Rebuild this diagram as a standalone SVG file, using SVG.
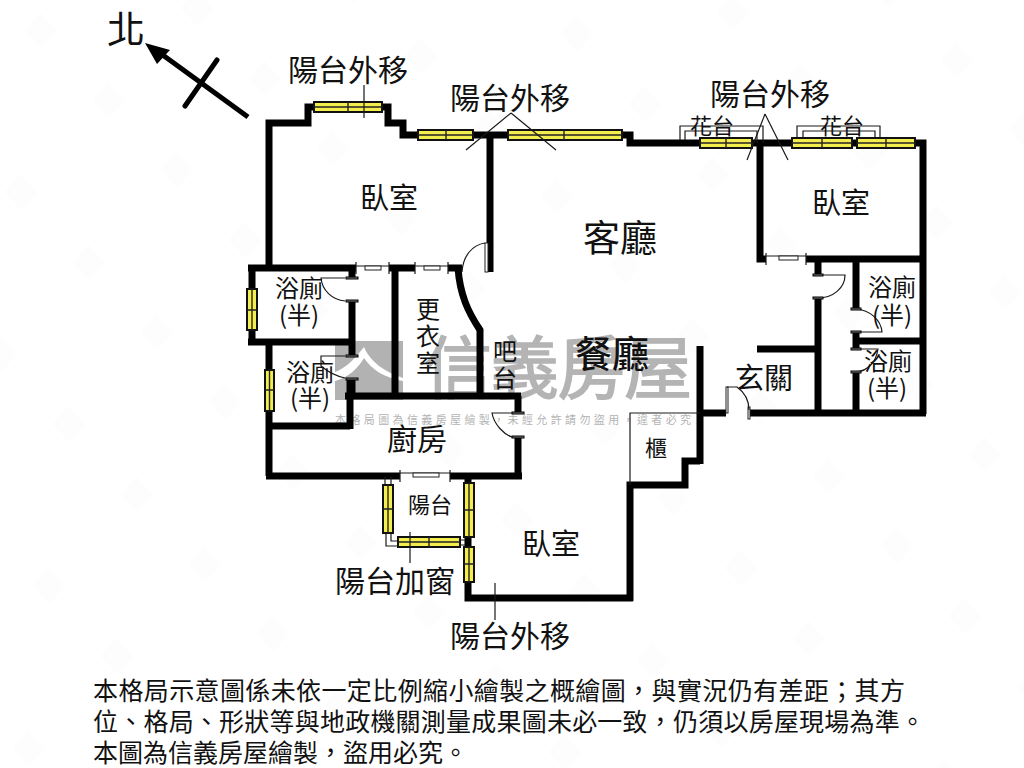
<svg xmlns="http://www.w3.org/2000/svg" width="1024" height="768" viewBox="0 0 1024 768">
<style>
.wall{fill:none;stroke:#000;stroke-width:7;stroke-linejoin:miter;stroke-linecap:butt}
.thin{fill:none;stroke:#1a1a1a;stroke-width:1.2}
.win{fill:#f3ee4e;stroke:#111;stroke-width:2}
.winl{fill:none;stroke:#222;stroke-width:1.400}
.cap{fill:#777;stroke:#000;stroke-width:1}
.leaf{fill:#fff;stroke:#222;stroke-width:1}
text{font-family:"Noto Sans CJK TC","Liberation Serif",sans-serif;fill:#111}
.t30{font-size:30px}.t29{font-size:29px}.t24{font-size:24px}.t22{font-size:22px}.t25{font-size:25px}
.wm{fill:#b4b4b4}
</style>
<defs>
<pattern id="faint" patternUnits="userSpaceOnUse" width="100" height="100" patternTransform="matrix(.68 .70 .88 -.92 4 192)">
<rect width="25" height="19" fill="#fdfdfd"/>
</pattern>
</defs>
<rect width="1024" height="768" fill="#fff"/>
<rect width="1024" height="768" fill="url(#faint)"/>
<g id="watermark">
<rect x="335" y="341" width="68" height="59" fill="#b2b2b2"/>
<path d="M364 347C352 362 345 368 335 372V381C348 378 358 368 364 358C372 370 385 378 403 381V378C385 372 370 362 364 347Z" fill="#fff"/>
<text x="424" y="393" class="wm" font-size="68" stroke="#b4b4b4" stroke-width="1.500" textLength="268" lengthAdjust="spacing">信義房屋</text>
<text x="335" y="424" class="wm" font-size="11" textLength="356" lengthAdjust="spacing">本格局圖為信義房屋繪製，未經允許請勿盜用，違者必究</text>
</g>
<g id="walls">
<path class="wall" d="M269 270V123H308V107H314M382 107H388V123H403V135H418"/>
<path class="wall" d="M473 135H508"/>
<path class="wall" d="M622 135H630V143H700M752 143H792M852 143H857M915 143H923V414"/>
<path class="wall" d="M490 135V272"/>
<path class="wall" d="M760 143V259H766M806 259H923"/>
<path class="wall" d="M248 268H356M389 268H415M448 268H462"/>
<path class="wall" d="M252 268V342M248 342H352M352 268V278M352 301V356M352 378V396"/>
<path class="wall" d="M395 268V396"/>
<path class="wall" d="M458 268C460 295 468 312 480 330V396"/>
<path class="wall" d="M345 396H521M518 396V413M518 437V476"/>
<path class="wall" d="M269 342V476M269 426H350M350 378V429"/>
<path class="wall" d="M266 476H400M450 476H522"/>
<path class="wall" d="M818 259V275M818 298V413M856 259V309M856 332V348M856 372V413M856 341H923M757 349H818"/>
<path class="wall" d="M700 346V464M700 413H726M749 413H926"/>
<path class="wall" d="M700 461H685V485H630V601M468 582V598H633"/>
<path class="wall" d="M468 476V485M468 537V547"/>
</g>
<g id="thin-lines">
<path class="thin" d="M630 485V413H700"/>
<path class="thin" d="M680 140V126H763V143M685 140V131H757V143M797 138V126H880V138M803 138V131H875V138"/>
<path class="thin" d="M385 477V485M391 477V485M386 533V546H397M391 533V541H397M460 540H465M460 545H465"/>
</g>
<g id="windows">
<rect class="win" x="314" y="102" width="68" height="10"/><path class="winl" d="M314 107H382M348 102V112"/>
<rect class="win" x="418" y="130" width="55" height="10"/><path class="winl" d="M418 135H473M446 130V140"/>
<rect class="win" x="508" y="130" width="114" height="10"/><path class="winl" d="M508 135H622M564 130V140"/>
<rect class="win" x="700" y="138" width="52" height="10"/><path class="winl" d="M700 143H752M726 138V148"/>
<rect class="win" x="792" y="138" width="60" height="10"/><path class="winl" d="M792 143H852M822 138V148"/>
<rect class="win" x="857" y="138" width="58" height="10"/><path class="winl" d="M857 143H915M886 138V148"/>
<rect class="win" x="247" y="289" width="10" height="41"/><path class="winl" d="M252 289V330M247 310H257"/>
<rect class="win" x="265" y="370" width="9" height="41"/><path class="winl" d="M269.500 370V411M265 390H274"/>
<rect class="win" x="383" y="485" width="10" height="48"/><path class="winl" d="M388 485V533M383 509H393"/>
<rect class="win" x="464" y="483" width="10" height="54"/><path class="winl" d="M469 483V537M464 510H474"/>
<rect class="win" x="464" y="547" width="10" height="35"/><path class="winl" d="M469 547V582M464 564H474"/>
<rect class="win" x="398" y="537" width="62" height="10"/><path class="winl" d="M398 542H460M429 537V547"/>
</g>
<g id="doors">
<path class="thin" d="M356 262V274M356 266H389M389 262V274"/><rect class="leaf" x="365" y="266" width="16" height="4"/>
<path class="thin" d="M415 262V274M415 266H448M448 262V274"/><rect class="leaf" x="424" y="266" width="16" height="4"/>
<path class="thin" d="M766 253V265M766 256H806M806 253V265"/><rect class="leaf" x="779" y="256" width="19" height="4"/>
<path class="thin" d="M400 470V482M400 473H450M450 470V482"/><rect class="leaf" x="413" y="473" width="26" height="4"/>
<rect class="leaf" x="485" y="243" width="3" height="29"/><path class="thin" d="M485 243C472 245 463 256 462 272"/>
<path class="thin" d="M345 278H321C322 290 332 300 345 301"/>
<path class="thin" d="M345 356H321V366C328 372 336 376 345 378"/>
<path class="thin" d="M512 413H492C494 425 505 435 512 437"/>
<path class="thin" d="M818 275H845C845 288 833 298 818 298"/>
<path class="thin" d="M856 309C870 310 881 320 882 332H856"/>
<path class="thin" d="M856 349H878C876 362 868 371 856 372"/>
<rect class="leaf" x="726" y="387" width="2" height="26"/>
<rect class="leaf" x="748" y="407" width="2" height="12"/>
<path class="thin" d="M727 387H737C744 392 749 400 749 410"/>
<rect class="cap" x="346" y="277" width="12" height="2"/><rect class="cap" x="346" y="300" width="12" height="2"/>
<rect class="cap" x="346" y="355" width="12" height="2"/><rect class="cap" x="346" y="378" width="12" height="2"/>
<rect class="cap" x="512" y="412" width="12" height="2"/><rect class="cap" x="512" y="436" width="12" height="2"/>
<rect class="cap" x="813" y="274" width="10" height="2"/><rect class="cap" x="813" y="297" width="10" height="2"/>
<rect class="cap" x="851" y="308" width="10" height="2"/><rect class="cap" x="851" y="331" width="10" height="2"/>
<rect class="cap" x="851" y="348" width="10" height="2"/><rect class="cap" x="851" y="371" width="10" height="2"/>
</g>
<g id="leaders">
<path class="thin" d="M364 85V118M511 113L466 150M511 113L556 150M765 114L747 160M765 114L788 160M495 583V620M410 532V563"/>
</g>
<g id="compass">
<path d="M248 117L160 53" stroke="#000" stroke-width="5" fill="none"/>
<path d="M185 106L217 60" stroke="#000" stroke-width="5" stroke-linecap="round" fill="none"/>
<path d="M145 43L170 50L157 64Z" fill="#000"/>
<text x="107" y="43" font-size="38">北</text>
</g>
<g id="labels">
<text class="t30" x="288" y="81">陽台外移</text>
<text class="t30" x="450" y="109">陽台外移</text>
<text class="t30" x="710" y="105">陽台外移</text>
<text class="t30" x="450" y="647">陽台外移</text>
<text class="t30" x="335" y="592">陽台加窗</text>
<text class="t29" x="360" y="209">臥室</text>
<text class="t29" x="812" y="214">臥室</text>
<text class="t29" x="522" y="555">臥室</text>
<text x="583" y="252" font-size="37">客廳</text>
<text x="575" y="368" font-size="37" font-weight="500">餐廳</text>
<text class="t22" x="690" y="134">花台</text>
<text class="t22" x="820" y="134">花台</text>
<text class="t24" x="275" y="297">浴廁</text>
<text class="t24" x="279" y="324">(半)</text>
<text class="t24" x="286" y="381">浴廁</text>
<text class="t24" x="290" y="407">(半)</text>
<text class="t24" x="868" y="296">浴廁</text>
<text class="t24" x="872" y="324">(半)</text>
<text class="t24" x="864" y="370">浴廁</text>
<text class="t24" x="867" y="397">(半)</text>
<text class="t24" x="416" y="318">更</text>
<text class="t24" x="416" y="345">衣</text>
<text class="t24" x="416" y="372">室</text>
<text class="t24" x="493" y="360">吧</text>
<text class="t24" x="493" y="387">台</text>
<text class="t30" x="387" y="450">廚房</text>
<text class="t22" x="408" y="513">陽台</text>
<text class="t22" x="645" y="456">櫃</text>
<text class="t29" x="735" y="389">玄關</text>
</g>
<g id="note">
<text class="t25" x="93" y="700" textLength="812">本格局示意圖係未依一定比例縮小繪製之概繪圖，與實況仍有差距；其方</text>
<text class="t25" x="93" y="731" textLength="832">位、格局、形狀等與地政機關測量成果圖未必一致，仍須以房屋現場為準。</text>
<text class="t25" x="93" y="762">本圖為信義房屋繪製，盜用必究。</text>
</g>
</svg>
